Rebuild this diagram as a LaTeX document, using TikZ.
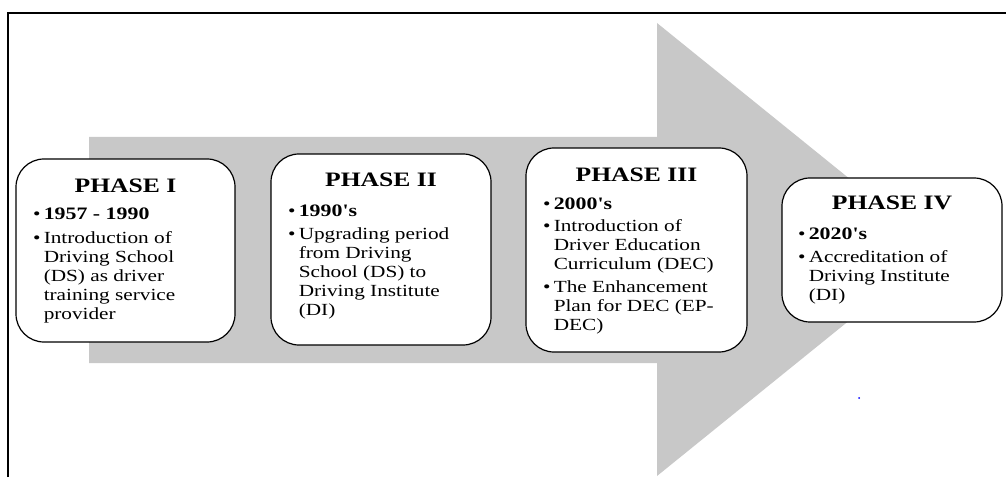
\documentclass[tikz,border=0pt]{standalone}
\usepackage{fontspec}
\setmainfont{Liberation Serif}
\usepackage{graphicx}
\usepackage{xcolor}
\definecolor{arrowgray}{RGB}{200,200,200}

% text in the boxes is set a bit wider than normal
\newcommand{\wide}[1]{\scalebox{1.25}[1]{#1}}
% bullet list set in two columns: bullet, text
\newcommand{\phaselist}[1]{\wide{\begin{tabular}[t]{@{}l@{\hspace{2.5pt}}l@{}}#1\end{tabular}}}
\newcommand{\yr}[1]{\textbf{\fontsize{17.5}{19}\selectfont #1}}

\begin{document}
\begin{tikzpicture}[x=1pt, y=1pt,
  phase/.style={draw, line width=1.2pt, rounded corners=28pt, fill=white},
  heading/.style={anchor=base, inner sep=0pt, font=\bfseries\fontsize{20.5}{22}\selectfont},
  items/.style={anchor=base west, inner sep=0pt, font=\fontsize{17}{19}\selectfont},
]
\useasboundingbox (0,0) rectangle (1006,477);

% frame lines (left and top)
\draw[line width=2pt] (8,0) -- (8,464) -- (1006,464);

% grey arrow behind the phases
\fill[arrowgray] (89,114) -- (657,114) -- (657,1) -- (937,227.5)
  -- (657,454) -- (657,340) -- (89,340) -- cycle;

% phase boxes
\node[phase, minimum width=219, minimum height=183] (p1) at (125.5,226.5) {};
\node[phase, minimum width=220, minimum height=191] (p2) at (381,227.5) {};
\node[phase, minimum width=221, minimum height=204] (p3) at (636.5,227) {};
\node[phase, minimum width=220, minimum height=144] (p4) at (892,227) {};

% headings
\node[heading] (t1) at (125.5,284) {\wide{PHASE I}};
\node[heading] (t2) at (381,290) {\wide{PHASE II}};
\node[heading] (t3) at (636.5,295) {\wide{PHASE III}};
\node[heading] (t4) at (892,267) {\wide{PHASE IV}};

% contents
\node[items] (l1) at (33,257) {\phaselist{
  \textbullet & \yr{1957 - 1990}\\[5pt]
  \textbullet & Introduction of\\
  & Driving School\\
  & (DS) as driver\\
  & training service\\
  & provider}};
\node[items] (l2) at (288,260) {\phaselist{
  \textbullet & \yr{1990\textquotesingle s}\\[4pt]
  \textbullet & Upgrading period\\
  & from Driving\\
  & School (DS) to\\
  & Driving Institute\\
  & (DI)}};
\node[items] (l3) at (543,267) {\phaselist{
  \textbullet & \yr{2000\textquotesingle s}\\[3pt]
  \textbullet & Introduction of\\
  & Driver Education\\
  & Curriculum (DEC)\\[4pt]
  \textbullet & The Enhancement\\
  & Plan for DEC (EP-\\
  & DEC)}};
\node[items] (l4) at (798,237) {\phaselist{
  \textbullet & \yr{2020\textquotesingle s}\\[4pt]
  \textbullet & Accreditation of\\
  & Driving Institute\\
  & (DI)}};

% stray dot
\fill[blue] (859,79) circle (1);
\end{tikzpicture}
\end{document}
